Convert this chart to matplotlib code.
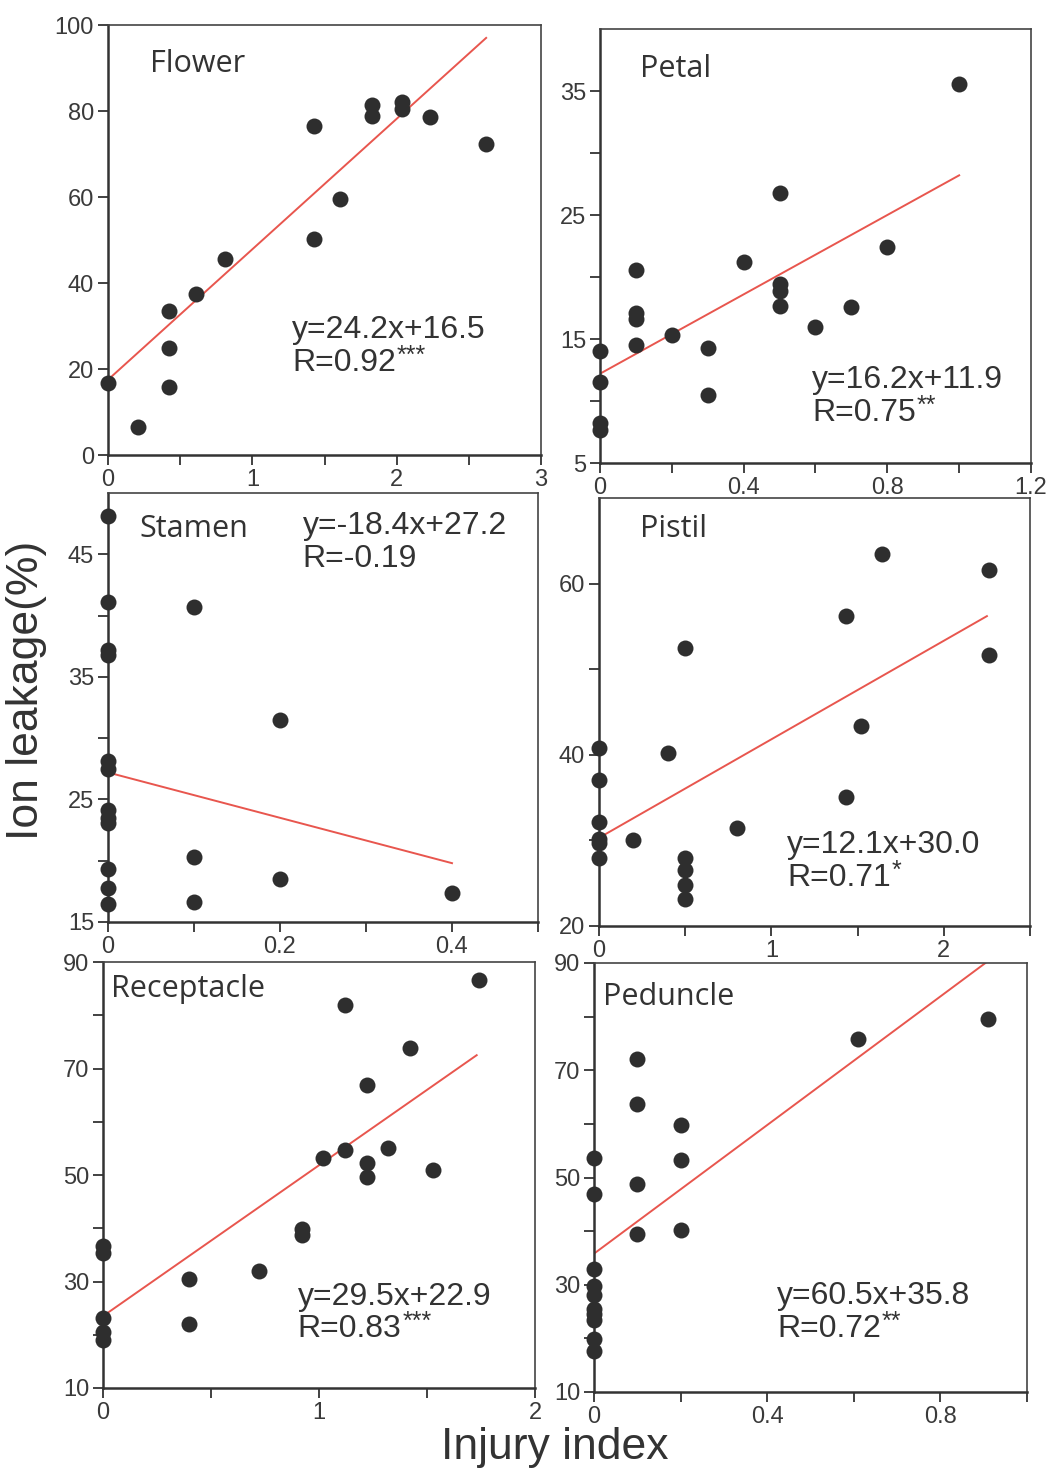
import matplotlib
matplotlib.use('Agg')
import matplotlib.pyplot as plt
from matplotlib.ticker import FuncFormatter

plt.rcParams['font.family'] = ['Liberation Sans', 'DejaVu Sans']

#%% Values
# Flower
flower_x = [0, 0.21, 0.42, 0.42, 0.42, 0.61, 0.81, 1.43, 1.43, 1.61, 1.83, 1.83, 2.04, 2.04, 2.23, 2.62]
flower_y = [16.8, 6.4, 33.6, 25.0, 15.7, 37.4, 45.5, 76.4, 50.2, 59.5, 81.4, 78.8, 82.2, 80.4, 78.7, 72.3]
flower_fit_x = [0, 2.62]
flower_fit_y = [17.5, 97.0]
# Petal
petal_x = [0, 0, 0, 0, 0.1, 0.1, 0.1, 0.1, 0.2, 0.3, 0.3, 0.4, 0.5, 0.5, 0.5, 0.5, 0.6, 0.7, 0.8, 1.0]
petal_y = [14.0, 11.5, 8.2, 7.7, 20.6, 17.1, 16.6, 14.5, 15.3, 14.3, 10.5, 21.2, 26.8, 19.4, 18.9, 17.7, 16.0, 17.6, 22.4, 35.6]
petal_fit_x = [0, 1.0]
petal_fit_y = [12.2, 28.2]
# Stamen
stamen_x = [0, 0, 0, 0, 0, 0, 0, 0, 0, 0, 0, 0, 0.1, 0.1, 0.1, 0.2, 0.2, 0.4]
stamen_y = [48.1, 41.1, 37.2, 36.8, 28.1, 27.5, 24.1, 23.5, 23.1, 19.3, 17.8, 16.5, 40.7, 20.3, 16.6, 31.5, 18.5, 17.4]
stamen_fit_x = [0, 0.4]
stamen_fit_y = [27.2, 19.8]
# Pistil
pistil_x = [0, 0, 0, 0, 0, 0, 0.2, 0.4, 0.5, 0.5, 0.5, 0.5, 0.5, 0.8, 1.43, 1.43, 1.52, 1.64, 2.26, 2.26]
pistil_y = [40.8, 37.1, 32.2, 30.2, 29.7, 27.9, 30.0, 40.2, 52.5, 27.9, 26.6, 24.8, 23.2, 31.5, 56.2, 35.1, 43.4, 63.5, 61.6, 51.7]
pistil_fit_x = [0, 2.25]
pistil_fit_y = [30.3, 56.2]
# Receptacle
receptacle_x = [0, 0, 0, 0, 0, 0.4, 0.4, 0.72, 0.92, 0.92, 1.02, 1.12, 1.12, 1.22, 1.22, 1.22, 1.32, 1.42, 1.53, 1.74]
receptacle_y = [36.7, 35.3, 23.1, 20.6, 19.1, 30.4, 22.0, 31.9, 39.8, 38.7, 53.1, 54.7, 82.0, 66.9, 52.2, 49.7, 55.0, 73.9, 50.9, 86.7]
receptacle_fit_x = [0, 1.73]
receptacle_fit_y = [23.5, 72.5]
# Peduncle
peduncle_x = [0, 0, 0, 0, 0, 0, 0, 0, 0, 0, 0.1, 0.1, 0.1, 0.1, 0.2, 0.2, 0.2, 0.61, 0.91]
peduncle_y = [53.7, 46.9, 33.0, 29.7, 28.0, 25.5, 24.5, 23.5, 19.8, 17.7, 72.1, 63.7, 48.7, 39.4, 59.7, 53.2, 40.2, 75.9, 79.6]
peduncle_fit_x = [0, 0.904]
peduncle_fit_y = [35.8, 90.0]

names = ['Flower', 'Petal', 'Stamen', 'Pistil', 'Receptacle', 'Peduncle']
equations = ['y=24.2x+16.5', 'y=16.2x+11.9', 'y=-18.4x+27.2', 'y=12.1x+30.0', 'y=29.5x+22.9', 'y=60.5x+35.8']
r_values = ['R=0.92', 'R=0.75', 'R=-0.19', 'R=0.71', 'R=0.83', 'R=0.72']
stars = ['***', '**', '', '*', '***', '**']

xlims = [(0, 3), (0, 1.2), (0, 0.5), (0, 2.5), (0, 2), (0, 1.0)]
ylims = [(0, 100), (5, 40), (15, 50), (20, 70), (10, 90), (10, 90)]
xticks_major = [[0, 1, 2, 3], [0, 0.4, 0.8, 1.2], [0, 0.2, 0.4], [0, 1, 2], [0, 1, 2], [0, 0.4, 0.8]]
xticks_minor = [[0.5, 1.5, 2.5], [0.2, 0.6, 1.0], [0.1, 0.3, 0.5], [0.5, 1.5, 2.5], [0.5, 1.5], [0.2, 0.6, 1.0]]
yticks_major = [[0, 20, 40, 60, 80, 100], [5, 15, 25, 35], [15, 25, 35, 45], [20, 40, 60], [10, 30, 50, 70, 90], [10, 30, 50, 70, 90]]
yticks_minor = [[], [10, 20, 30], [20, 30, 40], [30, 50], [20, 40, 60, 80], [20, 40, 60, 80]]

xs = [flower_x, petal_x, stamen_x, pistil_x, receptacle_x, peduncle_x]
ys = [flower_y, petal_y, stamen_y, pistil_y, receptacle_y, peduncle_y]
fit_xs = [flower_fit_x, petal_fit_x, stamen_fit_x, pistil_fit_x, receptacle_fit_x, peduncle_fit_x]
fit_ys = [flower_fit_y, petal_fit_y, stamen_fit_y, pistil_fit_y, receptacle_fit_y, peduncle_fit_y]

#%% Layout (pixel boxes: left, right, top, bottom) and text spots in axes coords
W, H = 1047, 1471
boxes = [(108, 541, 25, 455), (600, 1031, 29, 463),
         (108, 538, 493, 922), (599, 1030, 498, 926),
         (103, 535, 962, 1388), (594, 1027, 963, 1392)]
title_pos = [(0.097, 0.945), (0.093, 0.943), (0.074, 0.952), (0.095, 0.963), (0.018, 0.973), (0.02, 0.956)]
eq_pos = [(0.425, 0.325), (0.492, 0.225), (0.453, 0.957), (0.436, 0.224), (0.451, 0.25), (0.423, 0.258)]

dark = '#2e2e2e'
red = '#e8564e'
txt = '#333333'

fig = plt.figure(figsize=(W / 100, H / 100), dpi=100)
fmt = FuncFormatter(lambda v, p: '%g' % v)

for i in range(6):
    l, r, t, b = boxes[i]
    ax = fig.add_axes([l / W, 1 - b / H, (r - l) / W, (b - t) / H])
    ax.plot(fit_xs[i], fit_ys[i], color=red, linewidth=1.4, zorder=2)
    ax.plot(xs[i], ys[i], 'o', color=dark, markersize=11.5, markeredgewidth=0, zorder=3, clip_on=False)
    ax.set_xlim(xlims[i])
    ax.set_ylim(ylims[i])
    ax.set_xticks(xticks_major[i])
    ax.set_xticks(xticks_minor[i], minor=True)
    ax.set_yticks(yticks_major[i])
    ax.set_yticks(yticks_minor[i], minor=True)
    ax.xaxis.set_major_formatter(fmt)
    ax.yaxis.set_major_formatter(fmt)
    ax.tick_params(which='both', direction='out', length=7, width=1.3, color='#333333',
                   labelsize=17, labelcolor='#3a3a3a', pad=3, top=False, right=False)
    for side in ['left', 'bottom']:
        ax.spines[side].set_linewidth(1.8)
        ax.spines[side].set_color('#333333')
    for side in ['top', 'right']:
        ax.spines[side].set_linewidth(1.2)
        ax.spines[side].set_color('#444444')
    ax.text(title_pos[i][0], title_pos[i][1], names[i], transform=ax.transAxes,
            fontsize=22, family=['Open Sans', 'DejaVu Sans'], color=txt, va='top', ha='left')
    eq = ax.text(eq_pos[i][0], eq_pos[i][1], equations[i], transform=ax.transAxes,
                 fontsize=23, color=txt, va='top', ha='left')
    rt = ax.annotate(r_values[i], xy=(0, 0), xycoords=eq, xytext=(0, -2),
                     textcoords='offset points', fontsize=23, color=txt, va='top', ha='left')
    if stars[i]:
        ax.annotate(stars[i], xy=(1, 1), xycoords=rt, xytext=(0.5, 3),
                    textcoords='offset points', fontsize=18, color=txt, va='top', ha='left')

fig.text(27 / W, 1 - 690 / H, 'Ion leakage(%)', rotation=90, fontsize=32, color=txt,
         ha='center', va='center')
fig.text(555 / W, 1 - 1447 / H, 'Injury index', fontsize=32, color=txt,
         ha='center', va='center')

plt.savefig('out.png', dpi=100, facecolor='white')
